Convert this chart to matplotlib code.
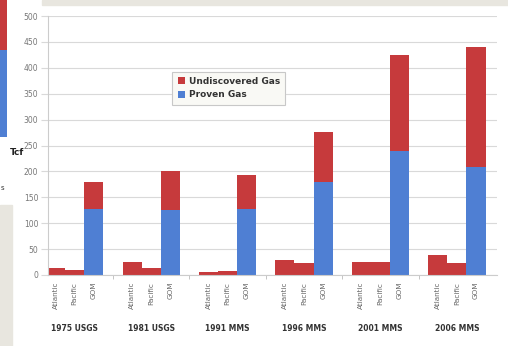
import matplotlib.pyplot as plt
from matplotlib.patches import Rectangle

# Gas resource estimates (Tcf) by assessment and region
assessments = ["1975 USGS", "1981 USGS", "1991 MMS", "1996 MMS", "2001 MMS", "2006 MMS"]
regions = ["Atlantic", "Pacific", "GOM"]

proven = [
    [0, 0, 127],
    [0, 0, 126],
    [0, 0, 127],
    [0, 0, 180],
    [0, 0, 239],
    [0, 0, 208],
]
undiscovered = [
    [13, 9, 53],
    [25, 14, 74],
    [5, 8, 67],
    [29, 24, 97],
    [26, 25, 186],
    [39, 24, 232],
]

# neighbouring chart cut off at the left edge
edge_proven = [87]
edge_undiscovered = [50]

red = "#c63a3c"
blue = "#4f7fd3"
beige = "#e8e6df"

W, H = 508, 346
fig = plt.figure(figsize=(W / 100, H / 100), dpi=100)
fig.patch.set_facecolor("white")

# backdrop strips
fig.add_artist(Rectangle((42 / W, 1 - 5 / H), 1, 5 / H, transform=fig.transFigure,
                         color=beige, zorder=0))
fig.add_artist(Rectangle((0, 0), 12 / W, 1 - 205 / H, transform=fig.transFigure,
                         color=beige, zorder=0))
fig.text(1 / W, 1 - 188 / H, "s", fontsize=5, color="#333333", va="center")

edge = fig.add_axes([0, 1 - 137 / H, 7 / W, 137 / H])
edge.bar([0], edge_proven, width=1.0, color=blue)
edge.bar([0], edge_undiscovered, bottom=edge_proven, width=1.0, color=red)
edge.set_xlim(-0.5, 0.5)
edge.set_ylim(0, edge_proven[0] + edge_undiscovered[0])
edge.axis("off")

ax = fig.add_axes([48 / W, 1 - 275 / H, 449 / W, 259 / H])

xs, labels = [], []
for g, name in enumerate(assessments):
    for r, reg in enumerate(regions):
        xs.append(g * 4 + r)
        labels.append(reg)

p_vals = [v for grp in proven for v in grp]
u_vals = [v for grp in undiscovered for v in grp]

ax.bar(xs, p_vals, width=1.0, color=blue, label="Proven Gas", zorder=2)
ax.bar(xs, u_vals, bottom=p_vals, width=1.0, color=red, label="Undiscovered Gas", zorder=2)

ax.set_xlim(-0.4, 23.1)
ax.set_ylim(0, 500)
ax.set_yticks(range(0, 501, 50))
ax.yaxis.grid(True, color="#d9d9d9", linewidth=0.8, zorder=0)
ax.set_axisbelow(True)

ax.set_xticks(xs)
ax.set_xticklabels(labels, rotation=90, fontsize=5.2, color="#666666")
ax.set_xticks([g * 4 + 3 for g in range(5)], minor=True)
ax.tick_params(axis="x", which="major", length=0, pad=5)
ax.tick_params(axis="x", which="minor", length=3, color="#bbbbbb")
ax.tick_params(axis="y", length=5, color="#d9d9d9", labelsize=5.5,
               labelcolor="#777777", pad=2)

for s in ["top", "right"]:
    ax.spines[s].set_visible(False)
ax.spines["left"].set_color("#cccccc")
ax.spines["bottom"].set_color("#cccccc")

for g, name in enumerate(assessments):
    ax.text(g * 4 + 1, -0.208, name, transform=ax.get_xaxis_transform(),
            ha="center", va="center", fontsize=5.5, fontweight="bold", color="#333333")

ax.set_ylabel("Tcf", rotation=0, fontsize=6.5, fontweight="bold", color="#222222")
ax.yaxis.set_label_coords(-0.069, 0.456)

handles, hl = ax.get_legend_handles_labels()
leg = ax.legend(handles[::-1], hl[::-1], loc="upper left", bbox_to_anchor=(0.267, 0.803),
                prop={"size": 6.5, "weight": "bold"}, handlelength=0.8, handleheight=0.8,
                handletextpad=0.4, labelspacing=0.5, borderpad=0.6, fancybox=False,
                framealpha=1)
leg.get_frame().set_edgecolor("#c8c8c8")
leg.get_frame().set_facecolor("#f9f9f5")
leg.get_frame().set_linewidth(0.8)
for t in leg.get_texts():
    t.set_color("#333333")

fig.savefig("out.png", dpi=100, facecolor=fig.get_facecolor())
